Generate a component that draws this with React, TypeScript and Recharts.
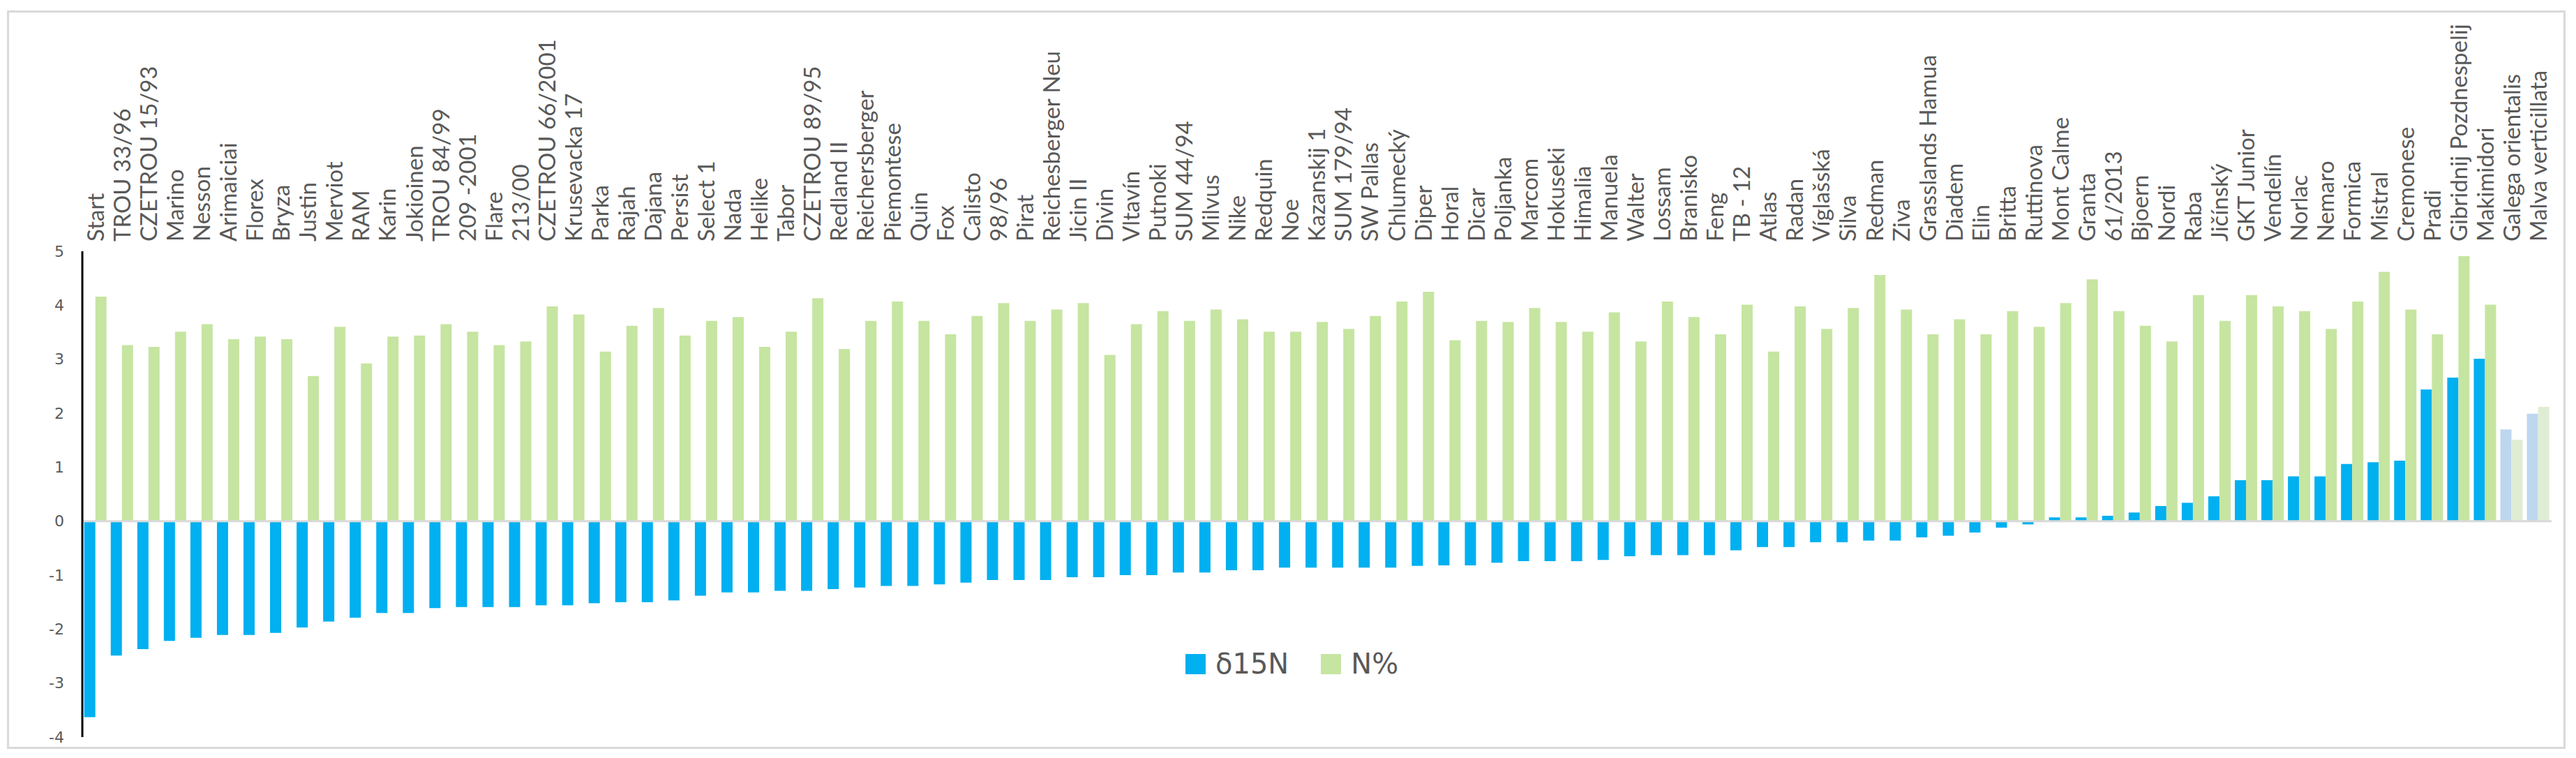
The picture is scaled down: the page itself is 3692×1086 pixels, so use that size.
import { Bar, BarChart, Cell, Legend, ReferenceLine, XAxis, YAxis } from "recharts";

const cultivars = [
  "Start", "TROU 33/96", "CZETROU 15/93", "Marino", "Nesson", "Arimaiciai", "Florex", "Bryza",
  "Justin", "Merviot", "RAM", "Karin", "Jokioinen", "TROU 84/99", "209 -2001", "Flare", "213/00",
  "CZETROU 66/2001", "Krusevacka 17", "Parka", "Rajah", "Dajana", "Persist", "Select 1", "Nada",
  "Helike", "Tabor", "CZETROU 89/95", "Redland II", "Reichersberger", "Piemontese", "Quin", "Fox",
  "Calisto", "98/96", "Pirat", "Reichesberger Neu", "Jicin II", "Divin", "Vltavín", "Putnoki",
  "SUM 44/94", "Milvus", "Nike", "Redquin", "Noe", "Kazanskij 1", "SUM 179/94", "SW Pallas",
  "Chlumecký", "Diper", "Horal", "Dicar", "Poljanka", "Marcom", "Hokuseki", "Himalia", "Manuela",
  "Walter", "Lossam", "Branisko", "Feng", "TB - 12", "Atlas", "Radan", "Víglašská", "Silva",
  "Redman", "Ziva", "Grasslands Hamua", "Diadem", "Elin", "Britta", "Ruttinova", "Mont Calme",
  "Granta", "61/2013", "Bjoern", "Nordi", "Raba", "Jičínský", "GKT Junior", "Vendelín", "Norlac",
  "Nemaro", "Formica", "Mistral", "Cremonese", "Pradi", "Gibridnij Pozdnespelij", "Makimidori",
  "Galega orientalis", "Malva verticillata",
];

const delta15N = [
  -3.63, -2.49, -2.37, -2.22, -2.16, -2.11, -2.11, -2.07, -1.97, -1.86, -1.79, -1.7, -1.7, -1.61,
  -1.59, -1.59, -1.59, -1.56, -1.56, -1.52, -1.5, -1.5, -1.47, -1.38, -1.32, -1.32, -1.29, -1.29,
  -1.26, -1.23, -1.2, -1.2, -1.17, -1.14, -1.09, -1.09, -1.09, -1.04, -1.04, -1.0, -1.0, -0.95,
  -0.95, -0.91, -0.91, -0.86, -0.86, -0.86, -0.86, -0.86, -0.83, -0.82, -0.82, -0.77, -0.74,
  -0.74, -0.74, -0.72, -0.65, -0.63, -0.63, -0.63, -0.54, -0.48, -0.48, -0.39, -0.39, -0.36,
  -0.36, -0.3, -0.27, -0.21, -0.12, -0.06, 0.07, 0.07, 0.1, 0.16, 0.28, 0.34, 0.46, 0.76, 0.76,
  0.83, 0.83, 1.06, 1.09, 1.12, 2.44, 2.66, 3.01, 1.7, 1.99,
];

const nPercent = [
  4.16, 3.26, 3.23, 3.51, 3.65, 3.37, 3.42, 3.37, 2.69, 3.6, 2.92, 3.42, 3.44, 3.65, 3.51, 3.26,
  3.33, 3.98, 3.83, 3.14, 3.62, 3.95, 3.44, 3.71, 3.78, 3.23, 3.51, 4.13, 3.19, 3.71, 4.07, 3.71,
  3.46, 3.8, 4.04, 3.71, 3.92, 4.04, 3.08, 3.65, 3.89, 3.71, 3.92, 3.74, 3.51, 3.51, 3.69, 3.56,
  3.8, 4.07, 4.25, 3.35, 3.71, 3.69, 3.95, 3.69, 3.51, 3.87, 3.33, 4.07, 3.78, 3.46, 4.01, 3.14,
  3.98, 3.56, 3.95, 4.56, 3.92, 3.46, 3.74, 3.46, 3.89, 3.6, 4.04, 4.48, 3.89, 3.62, 3.33, 4.19,
  3.71, 4.19, 3.98, 3.89, 3.56, 4.07, 4.62, 3.92, 3.46, 4.91, 4.01, 1.51, 2.12,
];

const referencePlants = ["Galega orientalis", "Malva verticillata"];
const yTicks = [-4, -3, -2, -1, 0, 1, 2, 3, 4, 5];
const seriesNames = ["δ15N", "N%"];

const BLUE = "#00B0F0";
const GREEN = "#C6E5A1";
const BLUE_LIGHT = "#BDD7EE";
const GREEN_LIGHT = "#DFEDD5";
const TEXT = "#595959";

const data = cultivars.map((name, i) => ({
  name,
  d15N: delta15N[i],
  nPct: nPercent[i],
}));

// rotated cultivar names sitting above the plot
const CategoryTick = ({ x, payload }: any) => (
  <text
    x={x}
    y={346}
    dy="0.36em"
    transform={`rotate(-90, ${x}, 346)`}
    textAnchor="start"
    fill={TEXT}
    fontSize={33}
    fontFamily="Lato"
  >
    {payload.value}
  </text>
);

const LegendContent = () => (
  <div style={{ display: "flex", alignItems: "center", fontFamily: "DejaVu Sans", fontSize: 40, color: TEXT }}>
    {seriesNames.map((s, i) => (
      <div key={s} style={{ display: "flex", alignItems: "center", marginRight: i === 0 ? 46 : 0 }}>
        <div style={{ width: 29, height: 29, background: i === 0 ? BLUE : GREEN, marginRight: 14 }} />
        <span>{s}</span>
      </div>
    ))}
  </div>
);

const App = () => {
  return (
    <div style={{ position: "absolute", left: 0, top: 0, width: 3692, height: 1086, background: "#fff" }}>
      <div
        style={{
          position: "absolute",
          left: 10,
          top: 15,
          width: 3667,
          height: 1058,
          border: "3px solid #D9D9D9",
          boxSizing: "border-box",
        }}
      />
      <div style={{ position: "absolute", left: 0, top: 0 }}>
        <BarChart
          width={3692}
          height={1086}
          data={data}
          margin={{ top: 340, right: 35, bottom: 30, left: 58 }}
          barCategoryGap="7%"
          barGap={0}
        >
          <XAxis
            dataKey="name"
            orientation="top"
            height={20}
            interval={0}
            axisLine={false}
            tickLine={false}
            tick={<CategoryTick />}
          />
          <YAxis
            width={60}
            domain={[-4, 5]}
            ticks={yTicks}
            interval={0}
            axisLine={{ stroke: "#000", strokeWidth: 3 }}
            tickLine={false}
            tickSize={0}
            tickMargin={26}
            tick={{ fill: TEXT, fontSize: 22, fontFamily: "DejaVu Sans" }}
          />
          <Legend
            layout="horizontal"
            verticalAlign="middle"
            align="center"
            content={<LegendContent />}
            wrapperStyle={{ left: 1699, top: 928, width: "auto" }}
          />
          <Bar dataKey="d15N" name={seriesNames[0]} fill={BLUE} isAnimationActive={false}>
            {data.map((d) => (
              <Cell key={d.name} fill={referencePlants.includes(d.name) ? BLUE_LIGHT : BLUE} />
            ))}
          </Bar>
          <Bar dataKey="nPct" name={seriesNames[1]} fill={GREEN} isAnimationActive={false}>
            {data.map((d) => (
              <Cell key={d.name} fill={referencePlants.includes(d.name) ? GREEN_LIGHT : GREEN} />
            ))}
          </Bar>
          <ReferenceLine y={0} stroke="#D9D9D9" strokeWidth={3} />
        </BarChart>
      </div>
    </div>
  );
};

export default App;
